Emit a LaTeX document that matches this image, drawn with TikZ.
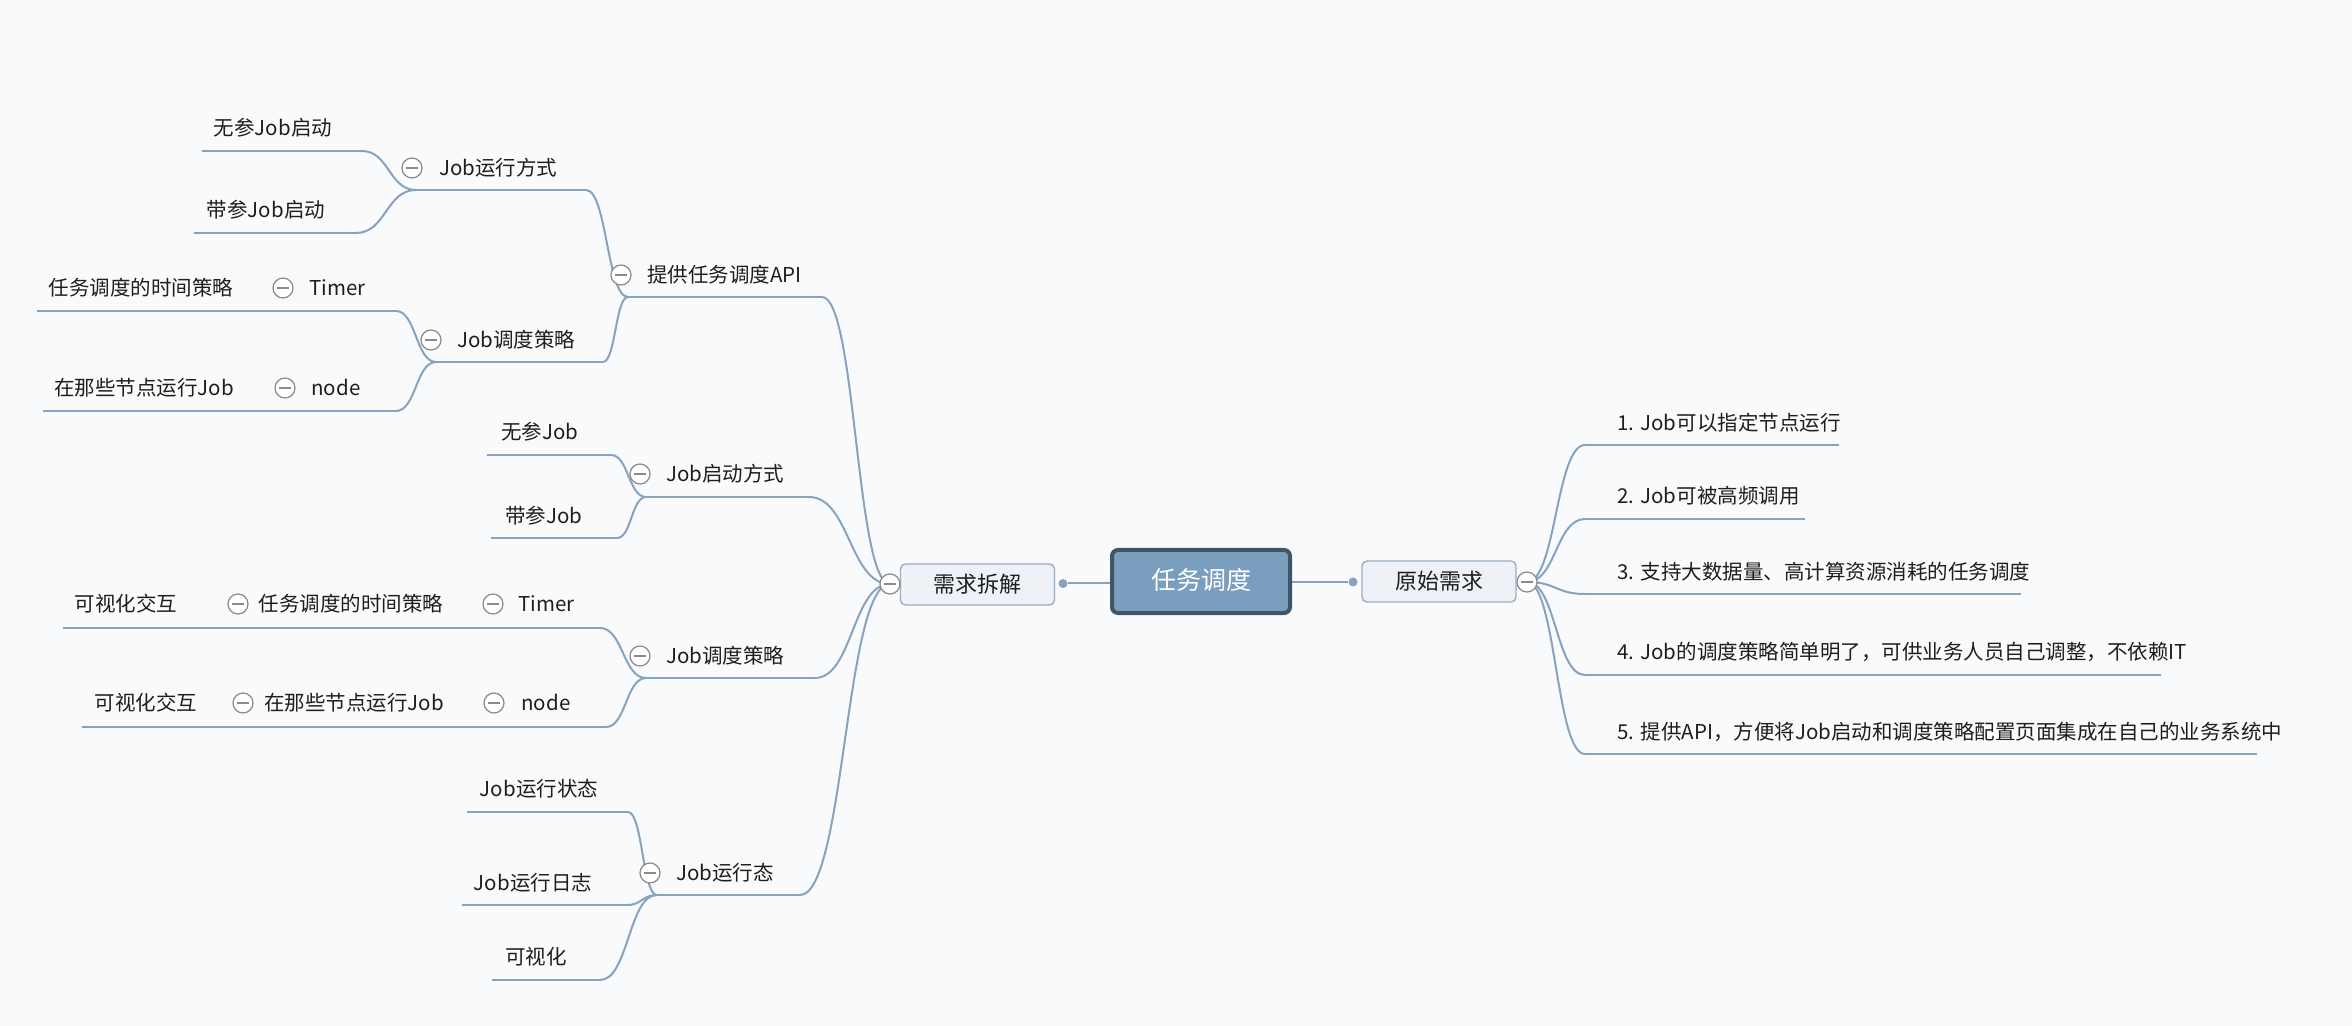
\documentclass[tikz,border=0pt]{standalone}
\usepackage{fontspec}
\setmainfont{Noto Sans CJK SC}
\usetikzlibrary{calc}
\definecolor{bg}{HTML}{F9FAFB}
\definecolor{ln}{HTML}{86A3BF}
\definecolor{rootfill}{HTML}{7A9EBE}
\definecolor{rootdraw}{HTML}{3F5568}
\definecolor{lonefill}{HTML}{EEF2F7}
\definecolor{lonedraw}{HTML}{97AFC7}
\definecolor{txt}{HTML}{1E1E1E}
\definecolor{cgray}{HTML}{8A8A8A}
\newcommand\conn[2]{\path (#1) -- (#2) coordinate[pos=.5] (cmid); \draw[link] (#1) .. controls (cmid |- #1) and (cmid |- #2) .. (#2);}
\begin{document}
\begin{tikzpicture}[x=0.5pt,y=-0.5pt,
  link/.style={draw=ln, line width=1pt},
  lbl/.style={font=\fontsize{10.25}{12}\selectfont, text=txt, inner sep=0, text height=0.76em, text depth=0pt},
  coll/.style={circle, draw=cgray, fill=white, line width=0.6pt, minimum size=10pt, inner sep=0,
    path picture={\draw[cgray, line width=0.9pt] ([xshift=-3pt]path picture bounding box.center) -- ([xshift=3pt]path picture bounding box.center);}},
  dotn/.style={circle, fill=ln, minimum size=4.5pt, inner sep=0},
  rootbox/.style={draw=rootdraw, fill=rootfill, line width=2pt, rounded corners=3pt, minimum width=89pt, minimum height=31.5pt, inner sep=0, text=white, font=\fontsize{12.5}{14}\selectfont, text height=0.76em, text depth=0pt},
  lonebox/.style={draw=lonedraw, fill=lonefill, line width=0.7pt, rounded corners=2.5pt, minimum width=77pt, minimum height=20.5pt, inner sep=0, text=txt, font=\fontsize{11}{13}\selectfont, text height=0.76em, text depth=0pt}]
\fill[bg] (0,0) rectangle (2352,1026);
\useasboundingbox (0,0) rectangle (2352,1026);

% ---- junction coordinates
\coordinate (Rj) at (1527,582);
\coordinate (Lj) at (890,584);

% ---- right items
\foreach \i/\y/\xe in {1/445/1839, 2/519/1805, 3/594/2021, 4/675/2161, 5/754/2257} {
  \coordinate (R\i-l) at (1585,\y);
  \coordinate (R\i-r) at (\xe,\y);
  \draw[link] (R\i-l) -- (R\i-r);
  \conn{Rj}{R\i-l}
}

% ---- left coordinates
\coordinate (A-l) at (628,297);   \coordinate (A-r) at (822,297);
\coordinate (A1-l) at (416,190);  \coordinate (A1-r) at (586,190);
\coordinate (A1a-l) at (202,151); \coordinate (A1a-r) at (362,151);
\coordinate (A1b-l) at (194,233); \coordinate (A1b-r) at (356,233);
\coordinate (A2-l) at (436,362);  \coordinate (A2-r) at (603,362);
\coordinate (A2a-l) at (293,311); \coordinate (A2a-r) at (396,311);
\coordinate (A2a1-l) at (37,311);
\coordinate (A2b-l) at (293,411); \coordinate (A2b-r) at (396,411);
\coordinate (A2b1-l) at (43,411);
\coordinate (B-l) at (646,497);   \coordinate (B-r) at (809,497);
\coordinate (B1-l) at (487,455);  \coordinate (B1-r) at (611,455);
\coordinate (B2-l) at (491,538);  \coordinate (B2-r) at (617,538);
\coordinate (C-l) at (646,678);   \coordinate (C-r) at (815,678);
\coordinate (C1-l) at (493,628);  \coordinate (C1-r) at (600,628);
\coordinate (C11-l) at (238,628);
\coordinate (C111-l) at (63,628);
\coordinate (C2-l) at (494,727);  \coordinate (C2-r) at (606,727);
\coordinate (C21-l) at (243,727);
\coordinate (C211-l) at (82,727);
\coordinate (D-l) at (657,895);   \coordinate (D-r) at (800,895);
\coordinate (D1-l) at (467,812);  \coordinate (D1-r) at (628,812);
\coordinate (D2-l) at (462,905);  \coordinate (D2-r) at (627,905);
\coordinate (D3-l) at (492,980);  \coordinate (D3-r) at (600,980);

% ---- underlines
\foreach \n in {A,A1,A1a,A1b,A2,A2a,A2b,B,B1,B2,C,C1,C2,D,D1,D2,D3} {\draw[link] (\n-l) -- (\n-r);}
\draw[link] (A2a1-l) -- (A2a-l);
\draw[link] (A2b1-l) -- (A2b-l);
\draw[link] (C111-l) -- (C11-l) -- (C1-l);
\draw[link] (C211-l) -- (C21-l) -- (C2-l);

% ---- connectors
\conn{A-r}{Lj} \conn{B-r}{Lj} \conn{C-r}{Lj} \conn{D-r}{Lj}
\conn{A1-r}{A-l} \conn{A2-r}{A-l}
\conn{A1a-r}{A1-l} \conn{A1b-r}{A1-l}
\conn{A2a-r}{A2-l} \conn{A2b-r}{A2-l}
\conn{B1-r}{B-l} \conn{B2-r}{B-l}
\conn{C1-r}{C-l} \conn{C2-r}{C-l}
\conn{D1-r}{D-l} \conn{D2-r}{D-l} \conn{D3-r}{D-l}

% ---- central nodes
\node[rootbox] (root) at (1201,581.5) {任务调度};
\node[lonebox] (R) at (1439,581.5) {原始需求};
\node[lonebox] (L) at (977.5,584.5) {需求拆解};
\node[dotn] (Rd) at (1353,582) {};
\node[dotn] (Ld) at (1063,583.5) {};
\draw[link] (root.east |- Rd) -- (Rd);
\draw[link] (root.west |- Ld) -- (Ld);

% ---- collapse circles
\node[coll] (Rc) at (Rj) {};
\node[coll] (Lc) at (Lj) {};
\node[coll] (Ac) at (621,275) {};
\node[coll] (A1c) at (412,168) {};
\node[coll] (A2c) at (431,340) {};
\node[coll] (A2ac) at (283,288) {};
\node[coll] (A2bc) at (285,388) {};
\node[coll] (Bc) at (640,474) {};
\node[coll] (Cc) at (640,656) {};
\node[coll] (C1c) at (493,604) {};
\node[coll] (C11c) at (238,604) {};
\node[coll] (C2c) at (494,703) {};
\node[coll] (C21c) at (243,703) {};
\node[coll] (Dc) at (650,873) {};

% ---- right texts
\node[lbl,anchor=west] (R1) at (1617,423) {1. Job可以指定节点运行};
\node[lbl,anchor=west] (R2) at (1617,496) {2. Job可被高频调用};
\node[lbl,anchor=west] (R3) at (1617,572) {3. 支持大数据量、高计算资源消耗的任务调度};
\node[lbl,anchor=west] (R4) at (1617,652) {4. Job的调度策略简单明了，可供业务人员自己调整，不依赖IT};
\node[lbl,anchor=west] (R5) at (1617,732) {5. 提供API，方便将Job启动和调度策略配置页面集成在自己的业务系统中};

% ---- left texts
\node[lbl,anchor=west] (A) at (647,275) {提供任务调度API};
\node[lbl,anchor=west] (A1) at (439,168) {Job运行方式};
\node[lbl] (A1a) at (273,128) {无参Job启动};
\node[lbl] (A1b) at (266,210) {带参Job启动};
\node[lbl,anchor=west] (A2) at (457,340) {Job调度策略};
\node[lbl,anchor=west] (A2a) at (309,288) {Timer};
\node[lbl] (A2a1) at (141,288) {任务调度的时间策略};
\node[lbl,anchor=west] (A2b) at (311,388) {node};
\node[lbl] (A2b1) at (144,388) {在那些节点运行Job};
\node[lbl,anchor=west] (B) at (666,474) {Job启动方式};
\node[lbl] (B1) at (540,432) {无参Job};
\node[lbl] (B2) at (544,516) {带参Job};
\node[lbl,anchor=west] (C) at (666,656) {Job调度策略};
\node[lbl,anchor=west] (C1) at (518,604) {Timer};
\node[lbl] (C11) at (351,604) {任务调度的时间策略};
\node[lbl] (C111) at (126,604) {可视化交互};
\node[lbl,anchor=west] (C2) at (521,703) {node};
\node[lbl] (C21) at (354,703) {在那些节点运行Job};
\node[lbl] (C211) at (146,703) {可视化交互};
\node[lbl,anchor=west] (D) at (676,873) {Job运行态};
\node[lbl] (D1) at (539,789) {Job运行状态};
\node[lbl] (D2) at (533,883) {Job运行日志};
\node[lbl] (D3) at (536,957) {可视化};
\end{tikzpicture}
\end{document}
